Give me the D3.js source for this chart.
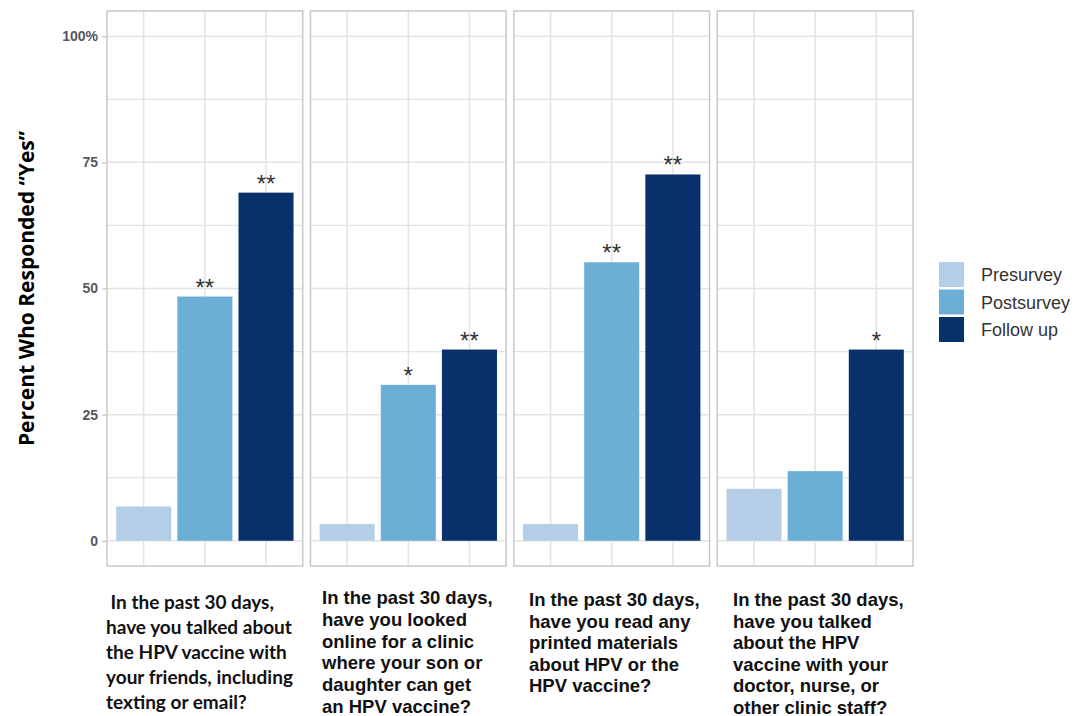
<!DOCTYPE html>
<html>
<head>
<meta charset="utf-8">
<script src="https://cdn.jsdelivr.net/npm/d3@7"></script>
<style>
  html, body { margin: 0; padding: 0; background: #fff; }
  svg { display: block; }
</style>
</head>
<body>
<svg id="chart" width="1075" height="716"></svg>
<script>
// Survey waves (fill groups) and the four questions (facets)
const series = ["Presurvey", "Postsurvey", "Follow up"];
const panels = ["Talked with friends", "Looked online", "Printed materials", "Talked with clinic staff"];

// Percent answering "Yes", one array per wave, in facet order
const presurvey  = [6.8, 3.3, 3.3, 10.3];
const postsurvey = [48.4, 30.9, 55.2, 13.8];
const followUp   = [69.0, 37.9, 72.6, 37.9];

// Significance markers, one array per wave, in facet order
const sigPre    = ["", "", "", ""];
const sigPost   = ["**", "*", "**", ""];
const sigFollow = ["**", "**", "**", "*"];

// Y axis ticks
const yTicks = [0, 25, 50, 75, 100];
const yTickLabels = ["0", "25", "50", "75", "100%"];
const yMinor = [12.5, 37.5, 62.5, 87.5];

// Question text under each facet
const questionLines = [
  [" In the past 30 days,", "have you talked about", "the HPV vaccine with", "your friends, including", "texting or email?"],
  ["In the past 30 days,", "have you looked", "online for a clinic", "where your son or", "daughter can get", "an HPV vaccine?"],
  ["In the past 30 days,", "have you read any", "printed materials", "about HPV or the", "HPV vaccine?"],
  ["In the past 30 days,", "have you talked", "about the HPV", "vaccine with your", "doctor, nurse, or", "other clinic staff?"]
];

const colors = ["#B4CEE8", "#6BAED6", "#08306B"];
const valuesBySeries = [presurvey, postsurvey, followUp];
const sigBySeries = [sigPre, sigPost, sigFollow];

const svg = d3.select("#chart");
const panelTop = 11, panelBottom = 566;

const fx = d3.scaleBand().domain(panels).range([107, 913]).paddingInner(0.038).paddingOuter(0);
const x = d3.scaleBand().domain(series).range([0, fx.bandwidth()]).paddingInner(0.1).paddingOuter(0.15);
const y = d3.scaleLinear().domain([-5, 105]).range([panelBottom, panelTop]);
const color = d3.scaleOrdinal().domain(series).range(colors);

const gridColor = "#E3E3E3";

panels.forEach((p, pi) => {
  const g = svg.append("g").attr("transform", `translate(${fx(p)},0)`);
  const w = fx.bandwidth();

  // minor + major horizontal grid
  g.selectAll("line.minor").data(yMinor).join("line")
    .attr("x1", 0).attr("x2", w)
    .attr("y1", d => y(d)).attr("y2", d => y(d))
    .attr("stroke", gridColor).attr("stroke-width", 1.3);
  g.selectAll("line.major").data(yTicks).join("line")
    .attr("x1", 0).attr("x2", w)
    .attr("y1", d => y(d)).attr("y2", d => y(d))
    .attr("stroke", gridColor).attr("stroke-width", 1.5);
  // vertical grid at category centres
  g.selectAll("line.vgrid").data(series).join("line")
    .attr("x1", d => x(d) + x.bandwidth() / 2).attr("x2", d => x(d) + x.bandwidth() / 2)
    .attr("y1", panelTop).attr("y2", panelBottom)
    .attr("stroke", gridColor).attr("stroke-width", 1.5);

  const rows = series.map((s, si) => ({ s, v: valuesBySeries[si][pi], sig: sigBySeries[si][pi] }));

  g.selectAll("rect.bar").data(rows).join("rect")
    .attr("x", d => x(d.s))
    .attr("width", x.bandwidth())
    .attr("y", d => y(d.v))
    .attr("height", d => y(0) - y(d.v))
    .attr("fill", d => color(d.s));

  g.selectAll("text.sig").data(rows.filter(d => d.sig)).join("text")
    .attr("x", d => x(d.s) + x.bandwidth() / 2)
    .attr("y", d => y(d.v) - 1)
    .attr("text-anchor", "middle")
    .attr("font-family", "Liberation Sans, Arial, sans-serif")
    .attr("font-size", 24)
    .attr("fill", "#333")
    .text(d => d.sig);

  // panel border
  g.append("rect")
    .attr("x", 0).attr("y", panelTop)
    .attr("width", w).attr("height", panelBottom - panelTop)
    .attr("fill", "none").attr("stroke", "#C8C8C8").attr("stroke-width", 1.5);
});

// Y axis on the first facet
const yAxis = d3.axisLeft(y).tickValues(yTicks)
  .tickFormat((d, i) => yTickLabels[i]).tickSize(5).tickPadding(4);
const ya = svg.append("g").attr("transform", `translate(${fx(panels[0])},0)`).call(yAxis);
ya.select(".domain").remove();
ya.selectAll(".tick line").attr("stroke", "#C8C8C8").attr("stroke-width", 1.3);
ya.selectAll(".tick text")
  .attr("font-family", "Liberation Sans, Arial, sans-serif")
  .attr("font-size", 14).attr("font-weight", "bold").attr("fill", "#55575F");

// Y axis title
svg.append("text")
  .attr("transform", `translate(34,${(y(0) + y(100)) / 2}) rotate(-90)`)
  .attr("text-anchor", "middle")
  .attr("font-family", "Open Sans, sans-serif")
  .attr("font-weight", "bold").attr("font-size", 21).attr("fill", "#000")
  .text("Percent Who Responded \u201CYes\u201D");

// Question labels
const labelLeft = [106, 322, 529, 733];
const labelFonts = ["Lato, sans-serif", "Liberation Sans, Arial, sans-serif", "Liberation Sans, Arial, sans-serif", "Liberation Sans, Arial, sans-serif"];
const labelSize = [19, 18.5, 18.5, 18.5];
const labelLead = [25, 21.8, 21.5, 21.5];
const labelFirst = [609, 604, 606, 606];
questionLines.forEach((lines, pi) => {
  const t = svg.append("text")
    .attr("font-family", labelFonts[pi])
    .attr("font-weight", "bold")
    .attr("font-size", labelSize[pi])
    .attr("fill", "#111")
    .attr("xml:space", "preserve");
  lines.forEach((ln, li) => {
    t.append("tspan").attr("x", labelLeft[pi]).attr("y", labelFirst[pi] + li * labelLead[pi]).text(ln);
  });
});

// Legend
const lg = svg.append("g").attr("transform", "translate(939,262)");
const item = lg.selectAll("g").data(series).join("g")
  .attr("transform", (d, i) => `translate(0,${i * 27.5})`);
item.append("rect").attr("width", 25).attr("height", 25).attr("fill", d => color(d));
item.append("text").attr("x", 42).attr("y", 19)
  .attr("font-family", "Liberation Sans, Arial, sans-serif")
  .attr("font-size", 18).attr("fill", "#333")
  .text(d => d);
</script>
</body>
</html>
